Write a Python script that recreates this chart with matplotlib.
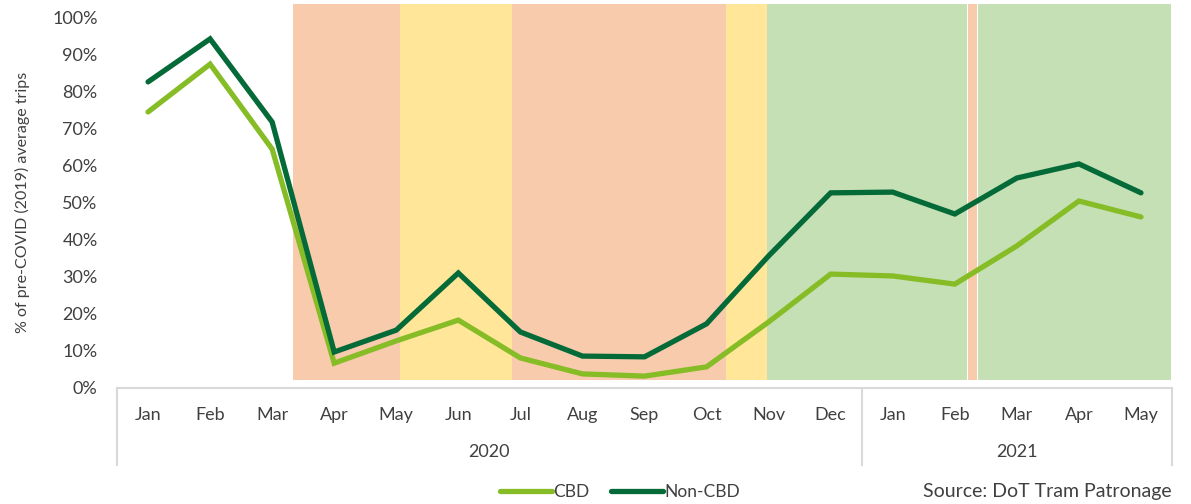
import numpy as np
import matplotlib.pyplot as plt

plt.rcParams['font.family'] = ['Lato', 'DejaVu Sans']

months = ["Jan", "Feb", "Mar", "Apr", "May", "Jun", "Jul", "Aug", "Sep",
          "Oct", "Nov", "Dec", "Jan", "Feb", "Mar", "Apr", "May"]
years = ["2020"] * 12 + ["2021"] * 5

cbd = [74.4, 87.3, 64.4, 6.7, 12.7, 18.3, 8.1, 3.8, 3.2, 5.7, 17.8, 30.7,
       30.2, 28.0, 38.3, 50.4, 46.1]
non_cbd = [82.5, 94.1, 71.7, 9.7, 15.6, 31.0, 15.1, 8.6, 8.4, 17.3, 35.6, 52.6,
           52.8, 46.9, 56.6, 60.4, 52.6]

# restriction phases (start, end in month-index units, colour)
phase_start = [2.33, 4.06, 5.86, 9.31, 9.98, 13.22, 13.38]
phase_end = [4.06, 5.86, 9.31, 9.98, 13.19, 13.35, 16.49]
phase_color = ["#F8CBAD", "#FFE699", "#F8CBAD", "#FFE699", "#C5E0B4",
               "#F8CBAD", "#C5E0B4"]

text_c = "#404040"
axis_c = "#D9D9D9"

fig = plt.figure(figsize=(11.91, 5.04), dpi=100)
ax = fig.add_axes([117 / 1191, (504 - 388) / 504, (1172 - 117) / 1191, 371 / 504])

x = np.arange(len(months))

for s, e, c in zip(phase_start, phase_end, phase_color):
    ax.axvspan(s, e, ymin=0.022, ymax=1.035, color=c, lw=0, clip_on=False, zorder=0)

ax.plot(x, cbd, color="#86BC25", lw=3.8, solid_capstyle="round",
        solid_joinstyle="miter", label="CBD", zorder=3)
ax.plot(x, non_cbd, color="#046A38", lw=3.8, solid_capstyle="round",
        solid_joinstyle="miter", label="Non-CBD", zorder=4)

ax.set_xlim(-0.5, len(months) - 0.5)
ax.set_ylim(0, 100)
ax.set_yticks(np.arange(0, 101, 10))
ax.set_yticklabels([f"{v}%" for v in range(0, 101, 10)])
ax.tick_params(axis="y", length=0, pad=14, labelsize=13, colors=text_c)

ax.set_xticks(x)
ax.set_xticklabels(months)
ax.tick_params(axis="x", length=0, pad=14, labelsize=13, colors=text_c)

for sp in ["top", "right", "left"]:
    ax.spines[sp].set_visible(False)
ax.spines["bottom"].set_color(axis_c)
ax.spines["bottom"].set_linewidth(1.5)

ax.set_ylabel("% of pre-COVID (2019) average trips", fontsize=11.5,
              color=text_c, labelpad=16)

# year grouping row of the category axis
trans = ax.get_xaxis_transform()
bottom = -77 / 371
for yr in dict.fromkeys(years):
    idx = [i for i, v in enumerate(years) if v == yr]
    ax.text(np.mean(idx), -64 / 371, yr, transform=trans, ha="center",
            va="center", fontsize=13, color=text_c)
edges = [-0.5] + [i + 0.5 for i in range(len(years) - 1) if years[i] != years[i + 1]] + [len(years) - 0.5]
for ex in edges:
    ax.plot([ex, ex], [0, bottom], transform=trans, color=axis_c, lw=1.5,
            clip_on=False)

fig.legend(loc="center", bbox_to_anchor=(620 / 1191, 12 / 504), ncol=2,
           frameon=False, fontsize=12.5, handlelength=3.0, handletextpad=0.1,
           columnspacing=1.2, labelcolor=text_c)

fig.text(1172 / 1191, 13 / 504, "Source: DoT Tram Patronage", ha="right",
         va="center", fontsize=14, color=text_c)

fig.savefig("out.png", dpi=100)
